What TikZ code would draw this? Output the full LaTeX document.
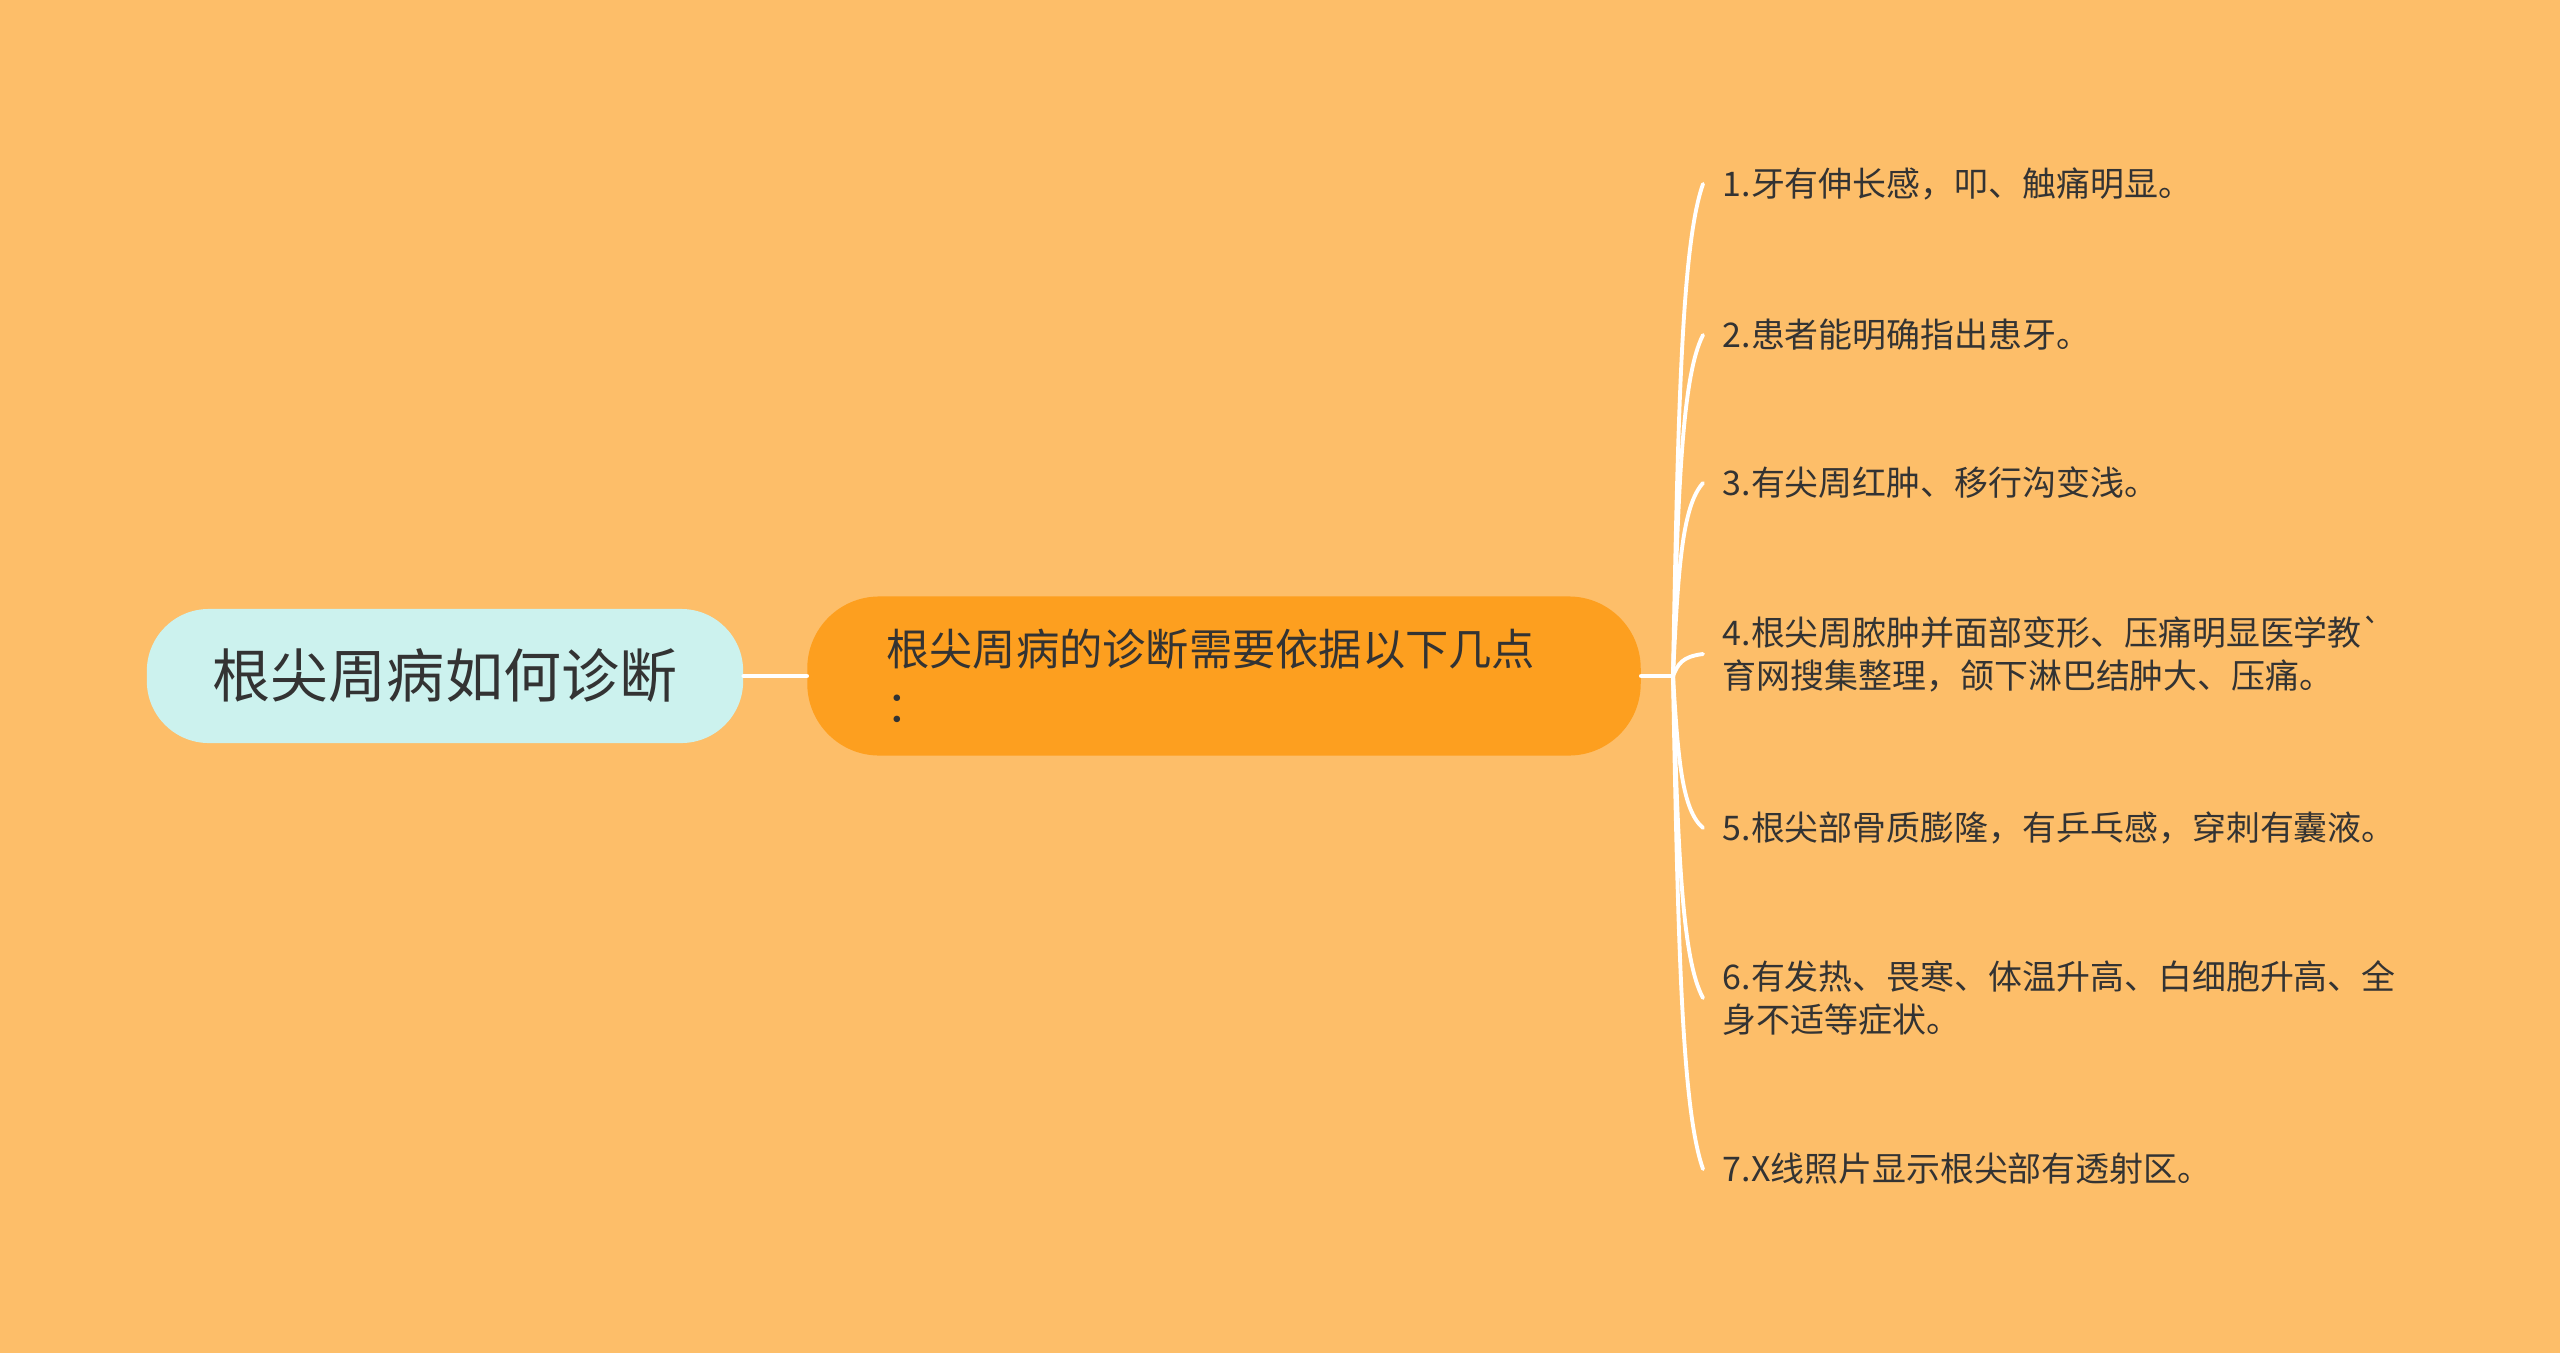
\documentclass[tikz,border=0pt]{standalone}
\usepackage{fontspec}
\newfontfamily\cjk{Noto Sans CJK SC}
\definecolor{bgorange}{HTML}{FDBE69}
\definecolor{rootcyan}{HTML}{CCF2EE}
\definecolor{midorange}{HTML}{FD9F1F}
\definecolor{inkgray}{HTML}{333333}
\begin{document}
\begin{tikzpicture}[x=0.01cm,y=0.01cm,
    rootbox/.style={fill=rootcyan, rounded corners=0.62cm,
        minimum width=5.96cm, minimum height=1.34cm,
        font=\cjk\fontsize{16.5}{20}\selectfont, text=inkgray},
    midbox/.style={fill=midorange, rounded corners=0.72cm,
        minimum width=8.33cm, minimum height=1.59cm, text width=6.75cm,
        align=left, font=\cjk\fontsize{12.3}{16.2}\selectfont, text=inkgray},
    leaf/.style={anchor=west, inner xsep=0.19cm, inner ysep=0pt, align=left,
        font=\cjk\fontsize{9.65}{12.2}\selectfont, text=inkgray},
    link/.style={draw=white, line width=1.4pt, line cap=round}]
    \fill[bgorange]
        (0,0) rectangle (2560,1353);
    \node[rootbox] (root) at (445,677) {根尖周病如何诊断};
    \node[midbox] (diag) at (1224,677) {根尖周病的诊断需要依据以下几点\\：};
    \coordinate (hub) at (1673,677);
    \node[leaf] (p1) at (1703,1169) {1.牙有伸长感，叩、触痛明显。};
    \node[leaf] (p2) at (1703,1018) {2.患者能明确指出患牙。};
    \node[leaf] (p3) at (1703,870) {3.有尖周红肿、移行沟变浅。};
    \node[leaf] (p4) at (1703,699) {4.根尖周脓肿并面部变形、压痛明显医学教`\\育网搜集整理，颌下淋巴结肿大、压痛。};
    \node[leaf] (p5) at (1703,525) {5.根尖部骨质膨隆，有乒乓感，穿刺有囊液。};
    \node[leaf] (p6) at (1703,355) {6.有发热、畏寒、体温升高、白细胞升高、全\\身不适等症状。};
    \node[leaf] (p7) at (1703,184) {7.X线照片显示根尖部有透射区。};
    \draw[link] (root) -- (diag);
    \draw[link] (diag) -- (hub);
    \foreach \n/\y in {1/1169,2/1018,3/870,4/699,5/525,6/355,7/184}
        \draw[link,line width=1.1pt]
            (hub) .. controls (1678,{677+0.55*(\y-677)}) and (1682,{\y-0.12*(\y-677)}) .. (p\n.west);
\end{tikzpicture}
\end{document}
